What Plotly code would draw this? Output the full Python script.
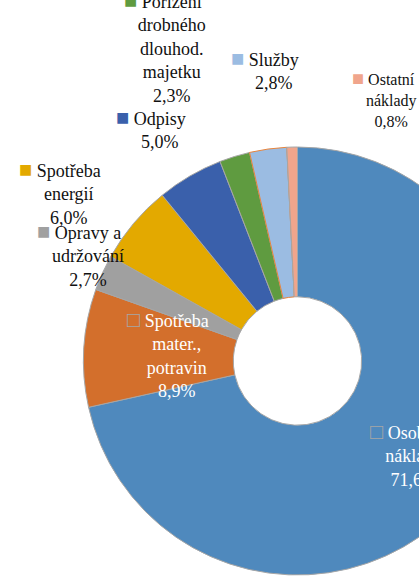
import plotly.graph_objects as go

# ---- data ----
categories = ["Osobní náklady", "Spotřeba mater., potravin", "Opravy a udržování",
              "Spotřeba energií", "Odpisy", "Pořízení drobného dlouhod. majetku",
              "Služby", "Ostatní náklady"]
label_lines = [["Osobní", "náklady"], ["Spotřeba", "mater.,", "potravin"], ["Opravy a", "udržování"],
               ["Spotřeba", "energií"], ["Odpisy"], ["Pořízení", "drobného", "dlouhod.", "majetku"],
               ["Služby"], ["Ostatní", "náklady"]]
values = [71.6, 8.9, 2.7, 6.0, 5.0, 2.3, 2.8, 0.8]
pct_labels = ["71,6%", "8,9%", "2,7%", "6,0%", "5,0%", "2,3%", "2,8%", "0,8%"]

# ---- styles ----
colors = ["#4F89BD", "#D36F2C", "#A0A0A0", "#E3A900", "#3A60AB", "#5F9B40", "#9BBCE2", "#F0A58C"]
edge_colors = ["#A6A6A6", "#A6A6A6", "#A6A6A6", "#A6A6A6", "#A6A6A6", "#A6A6A6", "#E8843C", "#A6A6A6"]
FONT = "'Times New Roman', 'Liberation Serif', serif"

W, H = 520, 583
cx, cy, r = 297.5, 361, 214

fig = go.Figure(go.Pie(
    labels=categories, values=values, sort=False, direction="clockwise", rotation=0,
    hole=0.3, textinfo="none", hoverinfo="label+percent",
    marker=dict(colors=colors, line=dict(color=edge_colors, width=1)),
    domain=dict(x=[(cx - r) / W, (cx + r) / W], y=[1 - (cy + r) / H, 1 - (cy - r) / H]),
    showlegend=False,
))

# label layout: (center x px, center y px, font size, text color, square style)
label_pos = [
    (414, 455, 18, "white", "hollow"),
    (177, 353.5, 18, "white", "hollow"),
    (88, 255, 18, "#111111", "fill"),
    (69, 192.5, 18, "#111111", "fill"),
    (160, 128.5, 18, "#111111", "fill"),
    (172, 46.5, 18, "#111111", "fill"),
    (274, 70, 18, "#111111", "fill"),
    (390.5, 98.5, 16, "#111111", "fill"),
]

annotations = []
for i, (px, py, fs, tc, sq) in enumerate(label_pos):
    ms = int(fs * 1.25)
    if sq == "hollow":
        mark = f"<span style='color:#A6A6A6;font-size:{ms}px'>□</span>"
    else:
        mark = f"<span style='color:{colors[i]};font-size:{ms}px'>■</span>"
    ghost = f"<span style='color:rgba(0,0,0,0);font-size:{ms}px'>■</span>"
    lines = list(label_lines[i])
    lines[0] = mark + "\u00a0" + lines[0] + "\u00a0" + ghost
    lines.append(pct_labels[i])
    annotations.append(dict(
        x=px / W, y=1 - py / H, xref="paper", yref="paper", xanchor="center", yanchor="middle",
        text="<br>".join(lines), showarrow=False, align="center",
        font=dict(family=FONT, size=fs, color=tc),
    ))

fig.update_layout(
    width=W, height=H, margin=dict(l=0, r=0, t=0, b=0),
    paper_bgcolor="white", plot_bgcolor="white",
    font=dict(family=FONT),
    annotations=annotations,
)

fig.write_html("out.html")
